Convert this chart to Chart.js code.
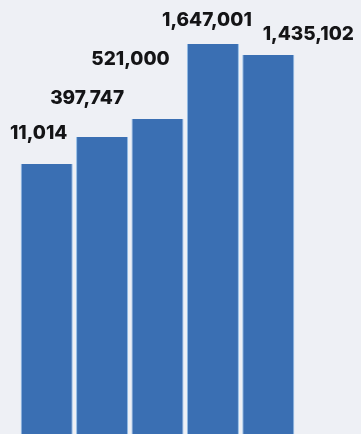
<!DOCTYPE html>
<html>
<head>
<meta charset="utf-8">
<script src="https://cdn.jsdelivr.net/npm/chart.js@4"></script>
<style>
  html, body { margin: 0; padding: 0; background: #eef0f5; }
  #chart { display: block; }
</style>
</head>
<body>
<canvas id="chart" width="361" height="434"></canvas>
<script>
// five columns, labels as printed on the picture
const categories = ['A', 'B', 'C', 'D', 'E'];
const valueLabels = ['11,014', '397,747', '521,000', '1,647,001', '1,435,102'];
// drawn column heights (the picture is not to scale with the labels)
const barHeights = [270, 297, 315, 390, 379];

// where each label sits relative to its column top
const labelShiftX = [-8, -15, -27, -6, 40];
const labelShiftY = [-25, -33, -54, -18, -15];

const valueLabelPlugin = {
    id: 'valueLabels',
    afterDatasetsDraw: function (chart) {
        let ctx = chart.ctx;
        let meta = chart.getDatasetMeta(0);
        ctx.save();
        ctx.fillStyle = '#141416';
        ctx.font = '800 19px Inter';
        ctx.textAlign = 'center';
        ctx.textBaseline = 'alphabetic';
        meta.data.forEach(function (bar, i) {
            ctx.fillText(valueLabels[i], bar.x + labelShiftX[i], bar.y + labelShiftY[i]);
        });
        ctx.restore();
    }
};

let ctx = document.getElementById('chart').getContext('2d');
new Chart(ctx, {
    type: 'bar',
    data: {
        labels: categories,
        datasets: [{
            data: barHeights,
            backgroundColor: '#3a6fb3',
            borderColor: '#93bde8',
            borderWidth: { left: 1, right: 1, top: 0, bottom: 0 },
            borderSkipped: false,
            barPercentage: 0.94,
            categoryPercentage: 1
        }]
    },
    options: {
        responsive: false,
        animation: false,
        layout: { padding: { left: 19, right: 65, top: 0, bottom: 0 } },
        plugins: {
            legend: { display: false },
            tooltip: { enabled: false }
        },
        scales: {
            x: { display: false },
            y: { display: false, min: 0, max: 434 }
        }
    },
    plugins: [valueLabelPlugin]
});
</script>
</body>
</html>
